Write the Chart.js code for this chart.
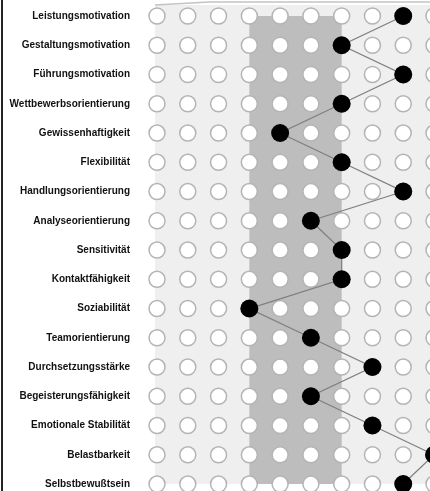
<!DOCTYPE html>
<html>
<head>
<meta charset="utf-8">
<script src="https://cdn.jsdelivr.net/npm/chart.js@4"></script>
<style>
  body { margin: 0; background: #fff; }
  #wrap { width: 430px; height: 491px; position: relative; }
</style>
</head>
<body>
<div id="wrap"><canvas id="profil"></canvas></div>
<script>
// Skalen der Persönlichkeitsdimensionen
const dimensionen = [
  'Leistungsmotivation', 'Gestaltungsmotivation', 'Führungsmotivation',
  'Wettbewerbsorientierung', 'Gewissenhaftigkeit', 'Flexibilität',
  'Handlungsorientierung', 'Analyseorientierung', 'Sensitivität',
  'Kontaktfähigkeit', 'Soziabilität', 'Teamorientierung',
  'Durchsetzungsstärke', 'Begeisterungsfähigkeit', 'Emotionale Stabilität',
  'Belastbarkeit', 'Selbstbewußtsein'
];
// Stufen 1..10 (Spalten)
const stufen = [1, 2, 3, 4, 5, 6, 7, 8, 9, 10];
// Profilwerte je Dimension
const profilWerte = [9, 7, 9, 7, 5, 7, 9, 6, 7, 7, 4, 6, 8, 6, 8, 10, 9];
// Bereiche: hell = gesamter Bereich, dunkel = Durchschnitt
const bereichHell = [1, 10];
const bereichDunkel = [4, 7];

// leere Kreise für alle Stufen
let rasterPunkte = [];
for (let i = 0; i < dimensionen.length; i++) {
  for (let s of stufen) {
    rasterPunkte.push({ x: s, y: i });
  }
}
let profilPunkte = profilWerte.map((w, i) => ({ x: w, y: i }));

const hintergrund = {
  id: 'hintergrund',
  beforeDatasetsDraw(chart) {
    const ctx = chart.ctx;
    const xs = chart.scales.x, ys = chart.scales.y;
    ctx.save();
    // heller Bereich
    let x1 = xs.getPixelForValue(bereichHell[0]) - 2;
    let x2 = xs.getPixelForValue(bereichHell[1]);
    let yTop = ys.getPixelForValue(-0.38);
    let yBot = ys.getPixelForValue(dimensionen.length - 1);
    ctx.fillStyle = '#efefef';
    ctx.fillRect(x1, yTop, x2 - x1, yBot - yTop);
    // dunkler Bereich
    x1 = xs.getPixelForValue(bereichDunkel[0]);
    x2 = xs.getPixelForValue(bereichDunkel[1]);
    ctx.fillStyle = '#bdbdbd';
    ctx.fillRect(x1, ys.getPixelForValue(0), x2 - x1, yBot - ys.getPixelForValue(0));
    // oberer Rahmen
    ctx.strokeStyle = '#c4c4c4';
    ctx.lineWidth = 1.5;
    ctx.beginPath();
    ctx.moveTo(xs.getPixelForValue(bereichHell[0]) - 2, 5);
    ctx.lineTo(xs.getPixelForValue(2.7), 2);
    ctx.lineTo(chart.width, 2);
    ctx.stroke();
    // linker Rand
    ctx.strokeStyle = '#222';
    ctx.lineWidth = 2;
    ctx.beginPath();
    ctx.moveTo(2, 0);
    ctx.lineTo(2, chart.height);
    ctx.stroke();
    ctx.restore();
  }
};

new Chart(document.getElementById('profil'), {
  type: 'scatter',
  data: {
    datasets: [
      {
        label: 'Profil',
        data: profilPunkte,
        showLine: true,
        borderColor: '#808080',
        borderWidth: 1.3,
        pointRadius: 9,
        pointBackgroundColor: '#000',
        pointBorderWidth: 0,
        order: 0
      },
      {
        label: 'Raster',
        data: rasterPunkte,
        pointRadius: 8,
        pointBackgroundColor: '#fff',
        pointBorderColor: '#b4b4b4',
        pointBorderWidth: 1.5,
        order: 1
      }
    ]
  },
  options: {
    responsive: true,
    maintainAspectRatio: false,
    devicePixelRatio: 1,
    animation: false,
    layout: { padding: 0, autoPadding: false },
    plugins: {
      legend: { display: false },
      tooltip: { enabled: false }
    },
    scales: {
      x: {
        type: 'linear',
        display: false,
        min: 0.35,
        max: 9.87
      },
      y: {
        type: 'linear',
        reverse: true,
        min: -0.547,
        max: 16.239,
        afterFit(scale) {
          scale.width = 137;
          scale.paddingTop = 0;
          scale.paddingBottom = 0;
        },
        afterBuildTicks(scale) {
          scale.ticks = dimensionen.map((d, i) => ({ value: i }));
        },
        grid: { display: false, drawTicks: false },
        border: { display: false },
        ticks: {
          padding: 7,
          color: '#111',
          font: { family: '"Liberation Sans", Arial, sans-serif', size: 10, weight: 'bold' },
          callback: (v) => dimensionen[v]
        }
      }
    }
  },
  plugins: [hintergrund]
});
</script>
</body>
</html>
